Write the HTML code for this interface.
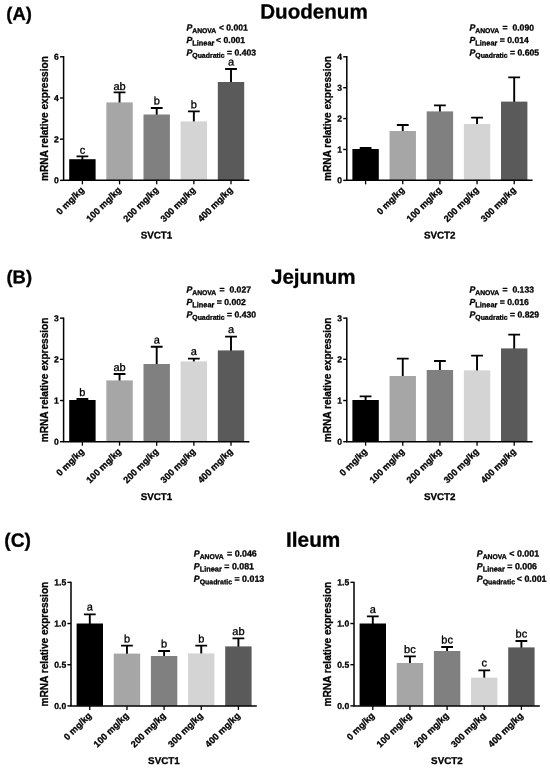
<!DOCTYPE html>
<html lang="en"><head><meta charset="utf-8"><title>SVCT1 and SVCT2 mRNA relative expression</title>
<style>
html,body{margin:0;padding:0;background:#fff;}
svg{display:block;will-change:transform;filter:grayscale(1);font-family:'Liberation Sans', Arial, Helvetica, sans-serif;font-weight:700;fill:#000;}
text{stroke:#000;stroke-width:0.3px;stroke-linejoin:round;}
</style></head><body>
<svg width="550" height="769" viewBox="0 0 550 769">
<rect width="550" height="769" fill="#fff"/>
<text x="6.3" y="20.1" transform="rotate(0.03 6.3 20.1)" font-size="18.4">(A)</text>
<text x="6.5" y="283.2" transform="rotate(0.03 6.5 283.2)" font-size="18.4">(B)</text>
<text x="4.3" y="546.8" transform="rotate(0.03 4.3 546.8)" font-size="19.2">(C)</text>
<text x="314" y="18.5" transform="rotate(0.03 314 18.5)" text-anchor="middle" font-size="20.6">Duodenum</text>
<text x="313.3" y="283.8" transform="rotate(0.03 313.3 283.8)" text-anchor="middle" font-size="20.6">Jejunum</text>
<text x="313.2" y="546.7" transform="rotate(0.03 313.2 546.7)" text-anchor="middle" font-size="20.8">Ileum</text>
<path d="M82.4 160.2V156.4M76.5 156.4H88.3" stroke="#000" stroke-width="1.9" fill="none"/>
<rect x="69.2" y="159.2" width="26.4" height="21.15" fill="#000000"/>
<path d="M82.4 180.35V184.35" stroke="#000" stroke-width="1.3"/>
<text x="82.4" y="153.8" transform="rotate(0.03 82.4 153.8)" text-anchor="middle" font-size="11" font-weight="400">c</text>
<text transform="translate(84.6 190.65) rotate(-45)" text-anchor="end" font-size="9.2">0 mg/kg</text>
<path d="M119.55 103.4V92.4M113.65 92.4H125.45" stroke="#000" stroke-width="1.9" fill="none"/>
<rect x="106.35" y="102.4" width="26.4" height="77.95" fill="#a6a6a8"/>
<path d="M119.55 180.35V184.35" stroke="#000" stroke-width="1.3"/>
<text x="119.55" y="90" transform="rotate(0.03 119.55 90)" text-anchor="middle" font-size="11" font-weight="400">ab</text>
<text transform="translate(121.75 190.65) rotate(-45)" text-anchor="end" font-size="9.2">100 mg/kg</text>
<path d="M156.7 115.5V108M150.8 108H162.6" stroke="#000" stroke-width="1.9" fill="none"/>
<rect x="143.5" y="114.5" width="26.4" height="65.85" fill="#808080"/>
<path d="M156.7 180.35V184.35" stroke="#000" stroke-width="1.3"/>
<text x="156.7" y="104.6" transform="rotate(0.03 156.7 104.6)" text-anchor="middle" font-size="11" font-weight="400">b</text>
<text transform="translate(158.9 190.65) rotate(-45)" text-anchor="end" font-size="9.2">200 mg/kg</text>
<path d="M193.85 122.4V111.4M187.95 111.4H199.75" stroke="#000" stroke-width="1.9" fill="none"/>
<rect x="180.65" y="121.4" width="26.4" height="58.95" fill="#d4d4d4"/>
<path d="M193.85 180.35V184.35" stroke="#000" stroke-width="1.3"/>
<text x="193.85" y="108.2" transform="rotate(0.03 193.85 108.2)" text-anchor="middle" font-size="11" font-weight="400">b</text>
<text transform="translate(196.05 190.65) rotate(-45)" text-anchor="end" font-size="9.2">300 mg/kg</text>
<path d="M231 83V69M225.1 69H236.9" stroke="#000" stroke-width="1.9" fill="none"/>
<rect x="217.8" y="82" width="26.4" height="98.35" fill="#5a5a5a"/>
<path d="M231 180.35V184.35" stroke="#000" stroke-width="1.3"/>
<text x="231" y="65.4" transform="rotate(0.03 231 65.4)" text-anchor="middle" font-size="11" font-weight="400">a</text>
<text transform="translate(233.2 190.65) rotate(-45)" text-anchor="end" font-size="9.2">400 mg/kg</text>
<path d="M63.6 56.1V181.1M62.85 180.35H249.4" stroke="#000" stroke-width="1.5" fill="none"/>
<path d="M60 180.35H63.6" stroke="#000" stroke-width="1.4"/>
<text x="58.8" y="183.35" transform="rotate(0.03 58.8 183.35)" text-anchor="end" font-size="8.6">0</text>
<path d="M60 139.17H63.6" stroke="#000" stroke-width="1.4"/>
<text x="58.8" y="142.17" transform="rotate(0.03 58.8 142.17)" text-anchor="end" font-size="8.6">2</text>
<path d="M60 97.98H63.6" stroke="#000" stroke-width="1.4"/>
<text x="58.8" y="100.98" transform="rotate(0.03 58.8 100.98)" text-anchor="end" font-size="8.6">4</text>
<path d="M60 56.8H63.6" stroke="#000" stroke-width="1.4"/>
<text x="58.8" y="59.8" transform="rotate(0.03 58.8 59.8)" text-anchor="end" font-size="8.6">6</text>
<text transform="translate(47.8 118.57) rotate(-90)" text-anchor="middle" font-size="10.1">mRNA relative expression</text>
<text x="156.5" y="238.55" transform="rotate(0.03 156.5 238.55)" text-anchor="middle" font-size="9.8">SVCT1</text>
<text x="186.4" y="30.6" transform="rotate(0.03 186.4 30.6)" font-size="8.75" xml:space="preserve"><tspan font-style="italic">P</tspan><tspan font-size="6.8" dy="2.4">ANOVA</tspan><tspan font-size="8.65" dy="-2.4" dx="0.2"> &lt; 0.001</tspan></text>
<text x="186.4" y="43" transform="rotate(0.03 186.4 43)" font-size="8.75" xml:space="preserve"><tspan font-style="italic">P</tspan><tspan font-size="7.4" dy="2.4">Linear</tspan><tspan font-size="8.65" dy="-2.4" dx="-0.7"> &lt; 0.001</tspan></text>
<text x="186.4" y="55.4" transform="rotate(0.03 186.4 55.4)" font-size="8.75" xml:space="preserve"><tspan font-style="italic">P</tspan><tspan font-size="6.95" dy="2.4">Quadratic</tspan><tspan font-size="8.65" dy="-2.4" dx="0"> = 0.403</tspan></text>
<path d="M365.6 150V148M359.7 148H371.5" stroke="#000" stroke-width="1.9" fill="none"/>
<rect x="352.4" y="149" width="26.4" height="31.35" fill="#000000"/>
<path d="M365.6 180.35V184.35" stroke="#000" stroke-width="1.3"/>
<path d="M402.75 132V125M396.85 125H408.65" stroke="#000" stroke-width="1.9" fill="none"/>
<rect x="389.55" y="131" width="26.4" height="49.35" fill="#a6a6a8"/>
<path d="M402.75 180.35V184.35" stroke="#000" stroke-width="1.3"/>
<text transform="translate(404.95 190.65) rotate(-45)" text-anchor="end" font-size="9.2">0 mg/kg</text>
<path d="M439.9 112.4V105.4M434 105.4H445.8" stroke="#000" stroke-width="1.9" fill="none"/>
<rect x="426.7" y="111.4" width="26.4" height="68.95" fill="#808080"/>
<path d="M439.9 180.35V184.35" stroke="#000" stroke-width="1.3"/>
<text transform="translate(442.1 190.65) rotate(-45)" text-anchor="end" font-size="9.2">100 mg/kg</text>
<path d="M477.05 125V117.6M471.15 117.6H482.95" stroke="#000" stroke-width="1.9" fill="none"/>
<rect x="463.85" y="124" width="26.4" height="56.35" fill="#d4d4d4"/>
<path d="M477.05 180.35V184.35" stroke="#000" stroke-width="1.3"/>
<text transform="translate(479.25 190.65) rotate(-45)" text-anchor="end" font-size="9.2">200 mg/kg</text>
<path d="M514.2 102.6V77.4M508.3 77.4H520.1" stroke="#000" stroke-width="1.9" fill="none"/>
<rect x="501" y="101.6" width="26.4" height="78.75" fill="#5a5a5a"/>
<path d="M514.2 180.35V184.35" stroke="#000" stroke-width="1.3"/>
<text transform="translate(516.4 190.65) rotate(-45)" text-anchor="end" font-size="9.2">300 mg/kg</text>
<path d="M346.8 56.1V181.1M346.05 180.35H532.6" stroke="#000" stroke-width="1.5" fill="none"/>
<path d="M343.2 180.35H346.8" stroke="#000" stroke-width="1.4"/>
<text x="342" y="183.35" transform="rotate(0.03 342 183.35)" text-anchor="end" font-size="8.6">0</text>
<path d="M343.2 149.46H346.8" stroke="#000" stroke-width="1.4"/>
<text x="342" y="152.46" transform="rotate(0.03 342 152.46)" text-anchor="end" font-size="8.6">1</text>
<path d="M343.2 118.57H346.8" stroke="#000" stroke-width="1.4"/>
<text x="342" y="121.57" transform="rotate(0.03 342 121.57)" text-anchor="end" font-size="8.6">2</text>
<path d="M343.2 87.69H346.8" stroke="#000" stroke-width="1.4"/>
<text x="342" y="90.69" transform="rotate(0.03 342 90.69)" text-anchor="end" font-size="8.6">3</text>
<path d="M343.2 56.8H346.8" stroke="#000" stroke-width="1.4"/>
<text x="342" y="59.8" transform="rotate(0.03 342 59.8)" text-anchor="end" font-size="8.6">4</text>
<text transform="translate(330.5 118.57) rotate(-90)" text-anchor="middle" font-size="10.1">mRNA relative expression</text>
<text x="439.7" y="238.55" transform="rotate(0.03 439.7 238.55)" text-anchor="middle" font-size="9.8">SVCT2</text>
<text x="469.4" y="30.6" transform="rotate(0.03 469.4 30.6)" font-size="8.75" xml:space="preserve"><tspan font-style="italic">P</tspan><tspan font-size="6.8" dy="2.4">ANOVA</tspan><tspan font-size="8.65" dy="-2.4" dx="0.9"> =  0.090</tspan></text>
<text x="469.4" y="43" transform="rotate(0.03 469.4 43)" font-size="8.75" xml:space="preserve"><tspan font-style="italic">P</tspan><tspan font-size="7.4" dy="2.4">Linear</tspan><tspan font-size="8.65" dy="-2.4" dx="0"> = 0.014</tspan></text>
<text x="469.4" y="55.4" transform="rotate(0.03 469.4 55.4)" font-size="8.75" xml:space="preserve"><tspan font-style="italic">P</tspan><tspan font-size="6.95" dy="2.4">Quadratic</tspan><tspan font-size="8.65" dy="-2.4" dx="0"> = 0.605</tspan></text>
<path d="M82.4 401V399M76.5 399H88.3" stroke="#000" stroke-width="1.9" fill="none"/>
<rect x="69.2" y="400" width="26.4" height="41.7" fill="#000000"/>
<path d="M82.4 441.7V445.7" stroke="#000" stroke-width="1.3"/>
<text x="82.4" y="395.9" transform="rotate(0.03 82.4 395.9)" text-anchor="middle" font-size="11" font-weight="400">b</text>
<text transform="translate(84.6 452) rotate(-45)" text-anchor="end" font-size="9.2">0 mg/kg</text>
<path d="M119.55 381.4V374M113.65 374H125.45" stroke="#000" stroke-width="1.9" fill="none"/>
<rect x="106.35" y="380.4" width="26.4" height="61.3" fill="#a6a6a8"/>
<path d="M119.55 441.7V445.7" stroke="#000" stroke-width="1.3"/>
<text x="119.55" y="371" transform="rotate(0.03 119.55 371)" text-anchor="middle" font-size="11" font-weight="400">ab</text>
<text transform="translate(121.75 452) rotate(-45)" text-anchor="end" font-size="9.2">100 mg/kg</text>
<path d="M156.7 365V346.8M150.8 346.8H162.6" stroke="#000" stroke-width="1.9" fill="none"/>
<rect x="143.5" y="364" width="26.4" height="77.7" fill="#808080"/>
<path d="M156.7 441.7V445.7" stroke="#000" stroke-width="1.3"/>
<text x="156.7" y="343.6" transform="rotate(0.03 156.7 343.6)" text-anchor="middle" font-size="11" font-weight="400">a</text>
<text transform="translate(158.9 452) rotate(-45)" text-anchor="end" font-size="9.2">200 mg/kg</text>
<path d="M193.85 362.4V358.6M187.95 358.6H199.75" stroke="#000" stroke-width="1.9" fill="none"/>
<rect x="180.65" y="361.4" width="26.4" height="80.3" fill="#d4d4d4"/>
<path d="M193.85 441.7V445.7" stroke="#000" stroke-width="1.3"/>
<text x="193.85" y="355" transform="rotate(0.03 193.85 355)" text-anchor="middle" font-size="11" font-weight="400">a</text>
<text transform="translate(196.05 452) rotate(-45)" text-anchor="end" font-size="9.2">300 mg/kg</text>
<path d="M231 351.4V336.6M225.1 336.6H236.9" stroke="#000" stroke-width="1.9" fill="none"/>
<rect x="217.8" y="350.4" width="26.4" height="91.3" fill="#5a5a5a"/>
<path d="M231 441.7V445.7" stroke="#000" stroke-width="1.3"/>
<text x="231" y="333" transform="rotate(0.03 231 333)" text-anchor="middle" font-size="11" font-weight="400">a</text>
<text transform="translate(233.2 452) rotate(-45)" text-anchor="end" font-size="9.2">400 mg/kg</text>
<path d="M63.6 317.45V442.45M62.85 441.7H249.4" stroke="#000" stroke-width="1.5" fill="none"/>
<path d="M60 441.7H63.6" stroke="#000" stroke-width="1.4"/>
<text x="58.8" y="444.7" transform="rotate(0.03 58.8 444.7)" text-anchor="end" font-size="8.6">0</text>
<path d="M60 400.52H63.6" stroke="#000" stroke-width="1.4"/>
<text x="58.8" y="403.52" transform="rotate(0.03 58.8 403.52)" text-anchor="end" font-size="8.6">1</text>
<path d="M60 359.33H63.6" stroke="#000" stroke-width="1.4"/>
<text x="58.8" y="362.33" transform="rotate(0.03 58.8 362.33)" text-anchor="end" font-size="8.6">2</text>
<path d="M60 318.15H63.6" stroke="#000" stroke-width="1.4"/>
<text x="58.8" y="321.15" transform="rotate(0.03 58.8 321.15)" text-anchor="end" font-size="8.6">3</text>
<text transform="translate(47.8 379.92) rotate(-90)" text-anchor="middle" font-size="10.1">mRNA relative expression</text>
<text x="156.5" y="499.9" transform="rotate(0.03 156.5 499.9)" text-anchor="middle" font-size="9.8">SVCT1</text>
<text x="186.4" y="292.5" transform="rotate(0.03 186.4 292.5)" font-size="8.75" xml:space="preserve"><tspan font-style="italic">P</tspan><tspan font-size="6.8" dy="2.4">ANOVA</tspan><tspan font-size="8.65" dy="-2.4" dx="0.9"> =  0.027</tspan></text>
<text x="186.4" y="304.9" transform="rotate(0.03 186.4 304.9)" font-size="8.75" xml:space="preserve"><tspan font-style="italic">P</tspan><tspan font-size="7.4" dy="2.4">Linear</tspan><tspan font-size="8.65" dy="-2.4" dx="0"> = 0.002</tspan></text>
<text x="186.4" y="317.4" transform="rotate(0.03 186.4 317.4)" font-size="8.75" xml:space="preserve"><tspan font-style="italic">P</tspan><tspan font-size="6.95" dy="2.4">Quadratic</tspan><tspan font-size="8.65" dy="-2.4" dx="0"> = 0.430</tspan></text>
<path d="M365.6 401V396.4M359.7 396.4H371.5" stroke="#000" stroke-width="1.9" fill="none"/>
<rect x="352.4" y="400" width="26.4" height="41.7" fill="#000000"/>
<path d="M365.6 441.7V445.7" stroke="#000" stroke-width="1.3"/>
<text transform="translate(367.8 452) rotate(-45)" text-anchor="end" font-size="9.2">0 mg/kg</text>
<path d="M402.75 377V358.6M396.85 358.6H408.65" stroke="#000" stroke-width="1.9" fill="none"/>
<rect x="389.55" y="376" width="26.4" height="65.7" fill="#a6a6a8"/>
<path d="M402.75 441.7V445.7" stroke="#000" stroke-width="1.3"/>
<text transform="translate(404.95 452) rotate(-45)" text-anchor="end" font-size="9.2">100 mg/kg</text>
<path d="M439.9 371V361M434 361H445.8" stroke="#000" stroke-width="1.9" fill="none"/>
<rect x="426.7" y="370" width="26.4" height="71.7" fill="#808080"/>
<path d="M439.9 441.7V445.7" stroke="#000" stroke-width="1.3"/>
<text transform="translate(442.1 452) rotate(-45)" text-anchor="end" font-size="9.2">200 mg/kg</text>
<path d="M477.05 371.4V355.6M471.15 355.6H482.95" stroke="#000" stroke-width="1.9" fill="none"/>
<rect x="463.85" y="370.4" width="26.4" height="71.3" fill="#d4d4d4"/>
<path d="M477.05 441.7V445.7" stroke="#000" stroke-width="1.3"/>
<text transform="translate(479.25 452) rotate(-45)" text-anchor="end" font-size="9.2">300 mg/kg</text>
<path d="M514.2 349.4V334.6M508.3 334.6H520.1" stroke="#000" stroke-width="1.9" fill="none"/>
<rect x="501" y="348.4" width="26.4" height="93.3" fill="#5a5a5a"/>
<path d="M514.2 441.7V445.7" stroke="#000" stroke-width="1.3"/>
<text transform="translate(516.4 452) rotate(-45)" text-anchor="end" font-size="9.2">400 mg/kg</text>
<path d="M346.8 317.45V442.45M346.05 441.7H532.6" stroke="#000" stroke-width="1.5" fill="none"/>
<path d="M343.2 441.7H346.8" stroke="#000" stroke-width="1.4"/>
<text x="342" y="444.7" transform="rotate(0.03 342 444.7)" text-anchor="end" font-size="8.6">0</text>
<path d="M343.2 400.52H346.8" stroke="#000" stroke-width="1.4"/>
<text x="342" y="403.52" transform="rotate(0.03 342 403.52)" text-anchor="end" font-size="8.6">1</text>
<path d="M343.2 359.33H346.8" stroke="#000" stroke-width="1.4"/>
<text x="342" y="362.33" transform="rotate(0.03 342 362.33)" text-anchor="end" font-size="8.6">2</text>
<path d="M343.2 318.15H346.8" stroke="#000" stroke-width="1.4"/>
<text x="342" y="321.15" transform="rotate(0.03 342 321.15)" text-anchor="end" font-size="8.6">3</text>
<text transform="translate(330.5 379.92) rotate(-90)" text-anchor="middle" font-size="10.1">mRNA relative expression</text>
<text x="439.7" y="499.9" transform="rotate(0.03 439.7 499.9)" text-anchor="middle" font-size="9.8">SVCT2</text>
<text x="469.4" y="292.5" transform="rotate(0.03 469.4 292.5)" font-size="8.75" xml:space="preserve"><tspan font-style="italic">P</tspan><tspan font-size="6.8" dy="2.4">ANOVA</tspan><tspan font-size="8.65" dy="-2.4" dx="0.9"> =  0.133</tspan></text>
<text x="469.4" y="304.9" transform="rotate(0.03 469.4 304.9)" font-size="8.75" xml:space="preserve"><tspan font-style="italic">P</tspan><tspan font-size="7.4" dy="2.4">Linear</tspan><tspan font-size="8.65" dy="-2.4" dx="0"> = 0.016</tspan></text>
<text x="469.4" y="317.4" transform="rotate(0.03 469.4 317.4)" font-size="8.75" xml:space="preserve"><tspan font-style="italic">P</tspan><tspan font-size="6.95" dy="2.4">Quadratic</tspan><tspan font-size="8.65" dy="-2.4" dx="0"> = 0.829</tspan></text>
<path d="M89.8 624.5V614.4M83.9 614.4H95.7" stroke="#000" stroke-width="1.9" fill="none"/>
<rect x="76.6" y="623.5" width="26.4" height="82.4" fill="#000000"/>
<path d="M89.8 705.9V709.9" stroke="#000" stroke-width="1.3"/>
<text x="89.8" y="610.6" transform="rotate(0.03 89.8 610.6)" text-anchor="middle" font-size="11" font-weight="400">a</text>
<text transform="translate(92 716.2) rotate(-45)" text-anchor="end" font-size="9.2">0 mg/kg</text>
<path d="M126.95 654.6V645.6M121.05 645.6H132.85" stroke="#000" stroke-width="1.9" fill="none"/>
<rect x="113.75" y="653.6" width="26.4" height="52.3" fill="#a6a6a8"/>
<path d="M126.95 705.9V709.9" stroke="#000" stroke-width="1.3"/>
<text x="126.95" y="642.4" transform="rotate(0.03 126.95 642.4)" text-anchor="middle" font-size="11" font-weight="400">b</text>
<text transform="translate(129.15 716.2) rotate(-45)" text-anchor="end" font-size="9.2">100 mg/kg</text>
<path d="M164.1 657V651M158.2 651H170" stroke="#000" stroke-width="1.9" fill="none"/>
<rect x="150.9" y="656" width="26.4" height="49.9" fill="#808080"/>
<path d="M164.1 705.9V709.9" stroke="#000" stroke-width="1.3"/>
<text x="164.1" y="647.6" transform="rotate(0.03 164.1 647.6)" text-anchor="middle" font-size="11" font-weight="400">b</text>
<text transform="translate(166.3 716.2) rotate(-45)" text-anchor="end" font-size="9.2">200 mg/kg</text>
<path d="M201.25 654.4V645.6M195.35 645.6H207.15" stroke="#000" stroke-width="1.9" fill="none"/>
<rect x="188.05" y="653.4" width="26.4" height="52.5" fill="#d4d4d4"/>
<path d="M201.25 705.9V709.9" stroke="#000" stroke-width="1.3"/>
<text x="201.25" y="642.6" transform="rotate(0.03 201.25 642.6)" text-anchor="middle" font-size="11" font-weight="400">b</text>
<text transform="translate(203.45 716.2) rotate(-45)" text-anchor="end" font-size="9.2">300 mg/kg</text>
<path d="M238.4 647.4V638.4M232.5 638.4H244.3" stroke="#000" stroke-width="1.9" fill="none"/>
<rect x="225.2" y="646.4" width="26.4" height="59.5" fill="#5a5a5a"/>
<path d="M238.4 705.9V709.9" stroke="#000" stroke-width="1.3"/>
<text x="238.4" y="635" transform="rotate(0.03 238.4 635)" text-anchor="middle" font-size="11" font-weight="400">ab</text>
<text transform="translate(240.6 716.2) rotate(-45)" text-anchor="end" font-size="9.2">400 mg/kg</text>
<path d="M71 581.65V706.65M70.25 705.9H256.8" stroke="#000" stroke-width="1.5" fill="none"/>
<path d="M67.4 705.9H71" stroke="#000" stroke-width="1.4"/>
<text x="66.2" y="708.9" transform="rotate(0.03 66.2 708.9)" text-anchor="end" font-size="8.6">0.0</text>
<path d="M67.4 664.72H71" stroke="#000" stroke-width="1.4"/>
<text x="66.2" y="667.72" transform="rotate(0.03 66.2 667.72)" text-anchor="end" font-size="8.6">0.5</text>
<path d="M67.4 623.53H71" stroke="#000" stroke-width="1.4"/>
<text x="66.2" y="626.53" transform="rotate(0.03 66.2 626.53)" text-anchor="end" font-size="8.6">1.0</text>
<path d="M67.4 582.35H71" stroke="#000" stroke-width="1.4"/>
<text x="66.2" y="585.35" transform="rotate(0.03 66.2 585.35)" text-anchor="end" font-size="8.6">1.5</text>
<text transform="translate(47.6 644.12) rotate(-90)" text-anchor="middle" font-size="10.1">mRNA relative expression</text>
<text x="163.9" y="764.1" transform="rotate(0.03 163.9 764.1)" text-anchor="middle" font-size="9.8">SVCT1</text>
<text x="193.8" y="556.5" transform="rotate(0.03 193.8 556.5)" font-size="8.75" xml:space="preserve"><tspan font-style="italic">P</tspan><tspan font-size="6.8" dy="2.4">ANOVA</tspan><tspan font-size="8.85" dy="-2.4" dx="0.9"> = 0.046</tspan></text>
<text x="193.8" y="569.2" transform="rotate(0.03 193.8 569.2)" font-size="8.75" xml:space="preserve"><tspan font-style="italic">P</tspan><tspan font-size="7.4" dy="2.4">Linear</tspan><tspan font-size="8.85" dy="-2.4" dx="0"> = 0.081</tspan></text>
<text x="193.8" y="581.8" transform="rotate(0.03 193.8 581.8)" font-size="8.75" xml:space="preserve"><tspan font-style="italic">P</tspan><tspan font-size="6.95" dy="2.4">Quadratic</tspan><tspan font-size="8.85" dy="-2.4" dx="0"> = 0.013</tspan></text>
<path d="M372.8 624.5V616.4M366.9 616.4H378.7" stroke="#000" stroke-width="1.9" fill="none"/>
<rect x="359.6" y="623.5" width="26.4" height="82.4" fill="#000000"/>
<path d="M372.8 705.9V709.9" stroke="#000" stroke-width="1.3"/>
<text x="372.8" y="613" transform="rotate(0.03 372.8 613)" text-anchor="middle" font-size="11" font-weight="400">a</text>
<text transform="translate(375 716.2) rotate(-45)" text-anchor="end" font-size="9.2">0 mg/kg</text>
<path d="M409.95 664V656.4M404.05 656.4H415.85" stroke="#000" stroke-width="1.9" fill="none"/>
<rect x="396.75" y="663" width="26.4" height="42.9" fill="#a6a6a8"/>
<path d="M409.95 705.9V709.9" stroke="#000" stroke-width="1.3"/>
<text x="409.95" y="653" transform="rotate(0.03 409.95 653)" text-anchor="middle" font-size="11" font-weight="400">bc</text>
<text transform="translate(412.15 716.2) rotate(-45)" text-anchor="end" font-size="9.2">100 mg/kg</text>
<path d="M447.1 652V647M441.2 647H453" stroke="#000" stroke-width="1.9" fill="none"/>
<rect x="433.9" y="651" width="26.4" height="54.9" fill="#808080"/>
<path d="M447.1 705.9V709.9" stroke="#000" stroke-width="1.3"/>
<text x="447.1" y="643.4" transform="rotate(0.03 447.1 643.4)" text-anchor="middle" font-size="11" font-weight="400">bc</text>
<text transform="translate(449.3 716.2) rotate(-45)" text-anchor="end" font-size="9.2">200 mg/kg</text>
<path d="M484.25 678.6V670.4M478.35 670.4H490.15" stroke="#000" stroke-width="1.9" fill="none"/>
<rect x="471.05" y="677.6" width="26.4" height="28.3" fill="#d4d4d4"/>
<path d="M484.25 705.9V709.9" stroke="#000" stroke-width="1.3"/>
<text x="484.25" y="666.6" transform="rotate(0.03 484.25 666.6)" text-anchor="middle" font-size="11" font-weight="400">c</text>
<text transform="translate(486.45 716.2) rotate(-45)" text-anchor="end" font-size="9.2">300 mg/kg</text>
<path d="M521.4 648.4V641M515.5 641H527.3" stroke="#000" stroke-width="1.9" fill="none"/>
<rect x="508.2" y="647.4" width="26.4" height="58.5" fill="#5a5a5a"/>
<path d="M521.4 705.9V709.9" stroke="#000" stroke-width="1.3"/>
<text x="521.4" y="637.6" transform="rotate(0.03 521.4 637.6)" text-anchor="middle" font-size="11" font-weight="400">bc</text>
<text transform="translate(523.6 716.2) rotate(-45)" text-anchor="end" font-size="9.2">400 mg/kg</text>
<path d="M354 581.65V706.65M353.25 705.9H539.8" stroke="#000" stroke-width="1.5" fill="none"/>
<path d="M350.4 705.9H354" stroke="#000" stroke-width="1.4"/>
<text x="349.2" y="708.9" transform="rotate(0.03 349.2 708.9)" text-anchor="end" font-size="8.6">0.0</text>
<path d="M350.4 664.72H354" stroke="#000" stroke-width="1.4"/>
<text x="349.2" y="667.72" transform="rotate(0.03 349.2 667.72)" text-anchor="end" font-size="8.6">0.5</text>
<path d="M350.4 623.53H354" stroke="#000" stroke-width="1.4"/>
<text x="349.2" y="626.53" transform="rotate(0.03 349.2 626.53)" text-anchor="end" font-size="8.6">1.0</text>
<path d="M350.4 582.35H354" stroke="#000" stroke-width="1.4"/>
<text x="349.2" y="585.35" transform="rotate(0.03 349.2 585.35)" text-anchor="end" font-size="8.6">1.5</text>
<text transform="translate(330.5 644.12) rotate(-90)" text-anchor="middle" font-size="10.1">mRNA relative expression</text>
<text x="446.9" y="764.1" transform="rotate(0.03 446.9 764.1)" text-anchor="middle" font-size="9.8">SVCT2</text>
<text x="476.8" y="556.5" transform="rotate(0.03 476.8 556.5)" font-size="8.75" xml:space="preserve"><tspan font-style="italic">P</tspan><tspan font-size="6.8" dy="2.4">ANOVA</tspan><tspan font-size="8.85" dy="-2.4" dx="0.2"> &lt; 0.001</tspan></text>
<text x="476.8" y="569.2" transform="rotate(0.03 476.8 569.2)" font-size="8.75" xml:space="preserve"><tspan font-style="italic">P</tspan><tspan font-size="7.4" dy="2.4">Linear</tspan><tspan font-size="8.85" dy="-2.4" dx="0"> = 0.006</tspan></text>
<text x="476.8" y="581.8" transform="rotate(0.03 476.8 581.8)" font-size="8.75" xml:space="preserve"><tspan font-style="italic">P</tspan><tspan font-size="6.95" dy="2.4">Quadratic</tspan><tspan font-size="8.85" dy="-2.4" dx="-0.7"> &lt; 0.001</tspan></text>
</svg>
</body></html>
